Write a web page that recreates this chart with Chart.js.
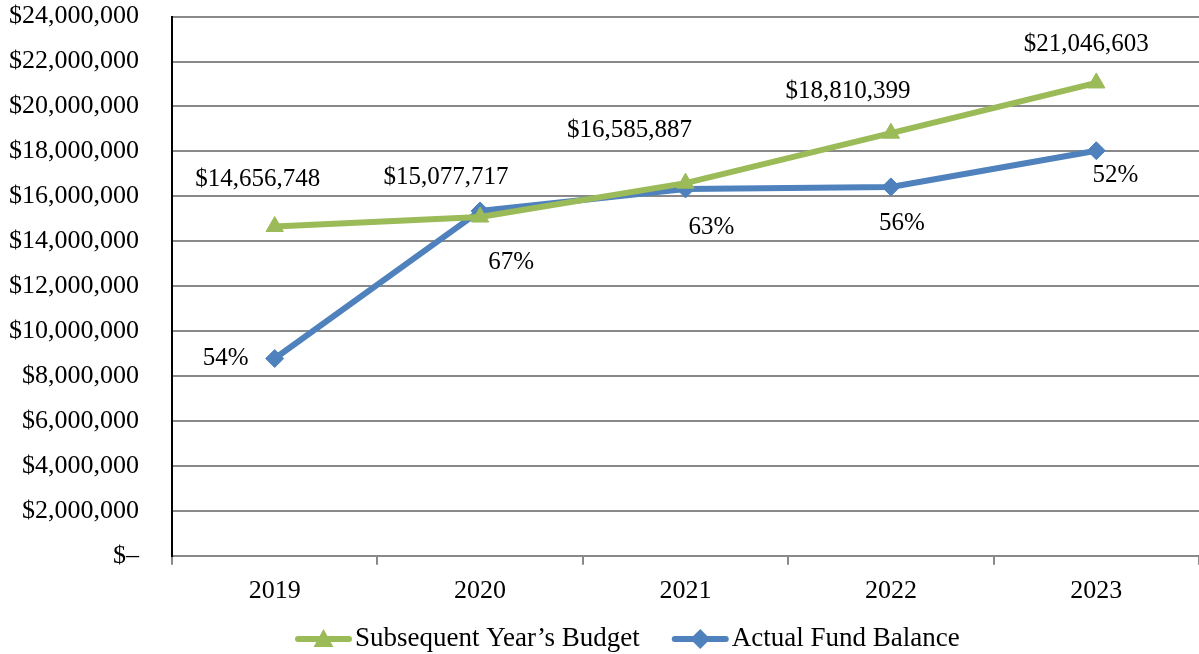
<!DOCTYPE html>
<html>
<head>
<meta charset="utf-8">
<script src="https://cdn.jsdelivr.net/npm/chart.js@4/dist/chart.umd.min.js"></script>
<style>
  html, body { margin: 0; padding: 0; background: #ffffff; }
  #wrap { width: 1199px; height: 654px; position: relative; }
</style>
</head>
<body>
<div id="wrap"><canvas id="c"></canvas></div>
<script>
// ---- data ----
const years = ['2019', '2020', '2021', '2022', '2023'];
const budgetValues = [14656748, 15077717, 16585887, 18810399, 21046603];
const actualValues = [8780000, 15350000, 16330000, 16420000, 18030000];
const actualPercentLabels = ['54%', '67%', '63%', '56%', '52%'];
const seriesNames = ['Subsequent Year\u2019s Budget', 'Actual Fund Balance'];

const GREEN = '#9BBB59';
const BLUE = '#4F81BD';
const GRID = '#898989';
const FONT = '"Liberation Serif", "Times New Roman", serif';

function money(v) {
  return '$' + Math.round(v).toLocaleString('en-US');
}

// data label plugin (label offsets in px relative to each point)
const labelPlugin = {
  id: 'pointLabels',
  afterDatasetsDraw(chart, args, opts) {
    const ctx = chart.ctx;
    ctx.save();
    ctx.font = opts.font;
    ctx.fillStyle = '#000';
    ctx.textAlign = 'center';
    ctx.textBaseline = 'middle';
    opts.sets.forEach(s => {
      const meta = chart.getDatasetMeta(s.dataset);
      meta.data.forEach((pt, i) => {
        const off = s.offsets[i];
        ctx.fillText(s.texts[i], pt.x + off[0], pt.y + off[1]);
      });
    });
    ctx.restore();
  }
};

// custom legend: line sample with marker, then text
const lineLegend = {
  id: 'lineLegend',
  afterDraw(chart, args, opts) {
    const ctx = chart.ctx;
    ctx.save();
    ctx.font = opts.font;
    ctx.textBaseline = 'middle';
    ctx.textAlign = 'left';
    let x = opts.startX;
    const y = opts.y;
    chart.data.datasets.forEach((ds, i) => {
      const color = ds.borderColor;
      ctx.strokeStyle = color;
      ctx.fillStyle = color;
      ctx.lineWidth = 6;
      ctx.lineCap = 'round';
      ctx.beginPath();
      ctx.moveTo(x + 3, y);
      ctx.lineTo(x + opts.sampleWidth - 3, y);
      ctx.stroke();
      const cx = x + opts.sampleWidth / 2;
      ctx.beginPath();
      if (ds.pointStyle === 'triangle') {
        ctx.moveTo(cx, y - 10); ctx.lineTo(cx + 10, y + 8); ctx.lineTo(cx - 10, y + 8);
      } else {
        ctx.moveTo(cx, y - 10); ctx.lineTo(cx + 10, y); ctx.lineTo(cx, y + 10); ctx.lineTo(cx - 10, y);
      }
      ctx.closePath();
      ctx.fill();
      x += opts.sampleWidth + opts.textGap;
      ctx.fillStyle = '#000';
      ctx.fillText(ds.label, x, y);
      x += ctx.measureText(ds.label).width + opts.itemGap;
    });
    ctx.restore();
  }
};

new Chart(document.getElementById('c'), {
  type: 'line',
  data: {
    labels: years,
    datasets: [
      {
        label: seriesNames[0],
        data: budgetValues,
        borderColor: GREEN,
        backgroundColor: GREEN,
        borderWidth: 6,
        pointStyle: 'triangle',
        pointRadius: 10,
        pointBorderWidth: 1,
        pointHoverRadius: 10,
        tension: 0
      },
      {
        label: seriesNames[1],
        data: actualValues,
        borderColor: BLUE,
        backgroundColor: BLUE,
        borderWidth: 6,
        pointStyle: 'rectRot',
        pointRadius: 9,
        pointBorderWidth: 1,
        pointHoverRadius: 9,
        tension: 0
      }
    ]
  },
  options: {
    responsive: true,
    maintainAspectRatio: false,
    animation: false,
    layout: { autoPadding: false, padding: { left: 8, right: 0, top: 0, bottom: 36 } },
    scales: {
      x: {
        offset: true,
        grid: {
          offset: true,
          drawOnChartArea: false,
          drawTicks: true,
          tickLength: 9,
          color: GRID,
          lineWidth: 2
        },
        border: { color: GRID, width: 2 },
        ticks: { color: '#000', font: { family: FONT, size: 26 }, padding: 11, maxRotation: 0 }
      },
      y: {
        min: 0,
        max: 24000000,
        grid: { color: GRID, lineWidth: 2, drawTicks: true, tickLength: 32, tickColor: 'rgba(0,0,0,0)' },
        border: { color: '#000', width: 2 },
        ticks: {
          stepSize: 2000000,
          color: '#000',
          padding: 1,
          font: { family: FONT, size: 26 },
          callback: v => v === 0 ? '$\u2013' : money(v)
        }
      }
    },
    plugins: {
      tooltip: { enabled: false },
      legend: { display: false },
      lineLegend: {
        font: '27px ' + FONT,
        startX: 295,
        y: 639,
        sampleWidth: 57,
        textGap: 3,
        itemGap: 32
      },
      pointLabels: {
        font: '25px ' + FONT,
        sets: [
          {
            dataset: 0,
            texts: budgetValues.map(money),
            offsets: [[-17, -47], [-34, -40], [-56, -53], [-43, -42], [-10, -39]]
          },
          {
            dataset: 1,
            texts: actualPercentLabels,
            offsets: [[-49, 0], [31, 52], [26, 39], [11, 37], [19, 25]]
          }
        ]
      }
    }
  },
  plugins: [labelPlugin, lineLegend]
});
</script>
</body>
</html>
